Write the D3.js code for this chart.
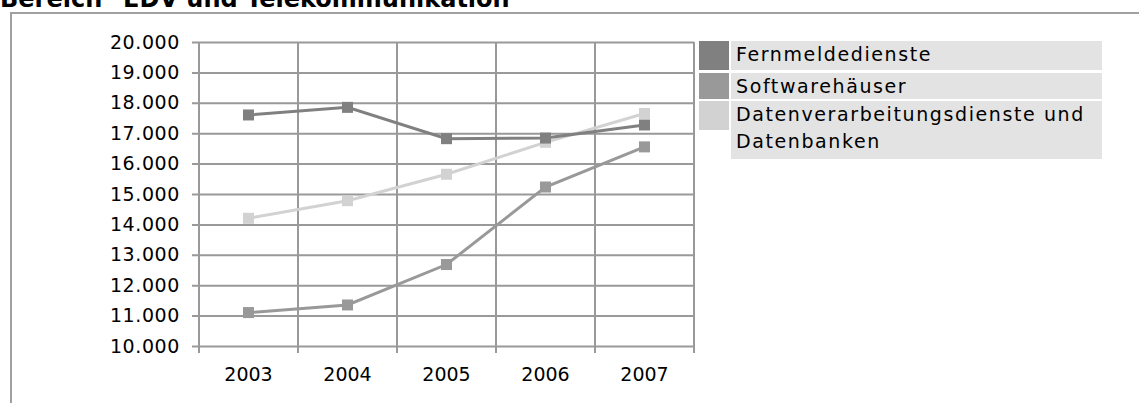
<!DOCTYPE html>
<html>
<head>
<meta charset="utf-8">
<script src="https://cdn.jsdelivr.net/npm/d3@7"></script>
<style>
  body { margin: 0; background: #fff; }
  svg text { font-family: "DejaVu Sans", Verdana, sans-serif; fill: #000; }
</style>
</head>
<body>
<svg width="1139" height="403"></svg>
<script>
var years = ["2003", "2004", "2005", "2006", "2007"];
var yTicks = [10000, 11000, 12000, 13000, 14000, 15000, 16000, 17000, 18000, 19000, 20000];
var seriesNames = ["Fernmeldedienste", "Softwarehäuser", "Datenverarbeitungsdienste und Datenbanken"];
var fernmelde = [17600, 17850, 16820, 16840, 17270];
var software = [11100, 11350, 12680, 15230, 16550];
var datenverarbeitung = [14200, 14780, 15650, 16700, 17650];
var colors = ["#808080", "#999999", "#d2d2d2"];

var svg = d3.select("svg");

var x = d3.scaleBand().domain(years).range([199, 694]);
var y = d3.scaleLinear().domain([10000, 20000]).range([346, 42]);

// title (cut off at top, as in the original)
svg.append("text")
    .attr("x", 0)
    .attr("y", 7)
    .style("font-weight", "bold")
    .style("font-size", "24px")
    .text("Bereich \"EDV und Telekommunikation\"");

// frame
svg.append("path")
    .attr("d", "M11,403V13H1139")
    .attr("fill", "none")
    .attr("stroke", "#a0a0a0")
    .attr("stroke-width", 2);

var fmt = function(d) { return d3.format(",")(d).replace(/,/g, "."); };

// horizontal grid + y axis
var yAxis = svg.append("g")
    .attr("transform", "translate(199,0)")
    .call(d3.axisLeft(y).tickValues(yTicks).tickFormat(fmt).tickSize(-495).tickSizeOuter(0).tickPadding(19));
yAxis.select(".domain").remove();
yAxis.selectAll(".tick line")
    .attr("x1", -7)
    .attr("stroke", "#999")
    .attr("stroke-width", 2);
yAxis.selectAll(".tick text")
    .style("font-size", "19px")
    .style("letter-spacing", "0.6px")
    .attr("fill", "#000");

// vertical grid
var bounds = years.map(function(d) { return x(d); }).concat([x.range()[1]]);
svg.append("g").selectAll("line")
    .data(bounds)
    .enter().append("line")
    .attr("x1", function(d) { return d; })
    .attr("x2", function(d) { return d; })
    .attr("y1", 42)
    .attr("y2", 353)
    .attr("stroke", "#999")
    .attr("stroke-width", 2);

// x labels
var xAxis = svg.append("g")
    .attr("transform", "translate(0,346)")
    .call(d3.axisBottom(x).tickSize(0).tickPadding(22));
xAxis.select(".domain").remove();
xAxis.selectAll(".tick text")
    .style("font-size", "19px")
    .attr("dy", "0.71em")
    .attr("fill", "#000");

var data = [fernmelde, software, datenverarbeitung];
var line = d3.line()
    .x(function(d, i) { return x(years[i]) + x.bandwidth() / 2; })
    .y(function(d) { return y(d); });

var order = [2, 1, 0];
order.forEach(function(k) {
    var g = svg.append("g");
    g.append("path")
        .attr("d", line(data[k]))
        .attr("fill", "none")
        .attr("stroke", colors[k])
        .attr("stroke-width", 3);
    g.selectAll("rect")
        .data(data[k])
        .enter().append("rect")
        .attr("x", function(d, i) { return x(years[i]) + x.bandwidth() / 2 - 5.5; })
        .attr("y", function(d) { return y(d) - 5.5; })
        .attr("width", 11)
        .attr("height", 11)
        .attr("fill", colors[k]);
});

// legend
var legendRows = [
    { lines: ["Fernmeldedienste"], y: 41, h: 29 },
    { lines: ["Softwarehäuser"], y: 73, h: 26 },
    { lines: ["Datenverarbeitungsdienste und", "Datenbanken"], y: 101, h: 58 }
];
var legend = svg.append("g");
legendRows.forEach(function(r, i) {
    legend.append("rect")
        .attr("x", 699).attr("y", r.y)
        .attr("width", 30).attr("height", i === 2 ? 29 : r.h)
        .attr("fill", colors[i]);
    legend.append("rect")
        .attr("x", 731).attr("y", r.y)
        .attr("width", 371).attr("height", r.h)
        .attr("fill", "#e3e3e3");
    r.lines.forEach(function(t, j) {
        legend.append("text")
            .attr("x", 736)
            .attr("y", r.y + 20 + j * 27)
            .style("font-size", "19px")
            .style("letter-spacing", "1.6px")
            .text(t);
    });
});
</script>
</body>
</html>
